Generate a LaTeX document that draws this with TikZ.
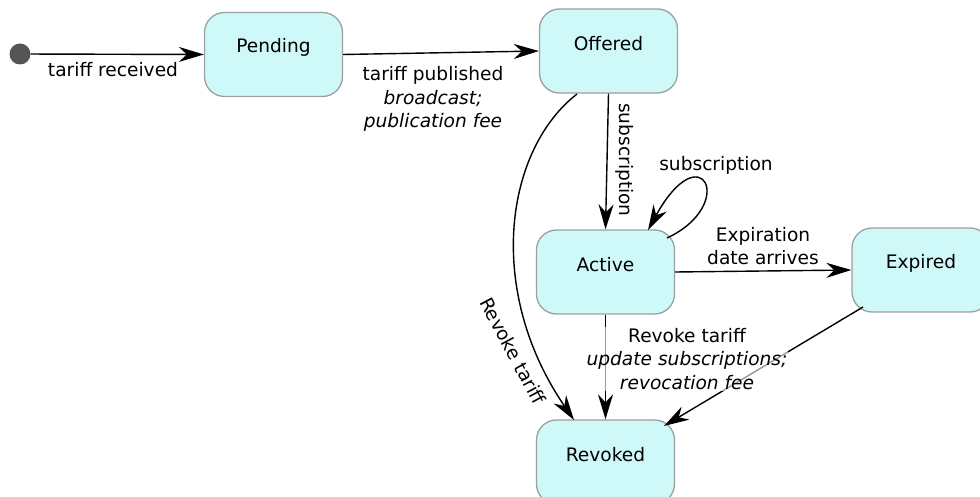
\documentclass[tikz,border=0pt]{standalone}
\usepackage{fontspec}
\setmainfont{DejaVu Sans}
\usetikzlibrary{arrows.meta}
\definecolor{statefill}{RGB}{207,248,248}
\definecolor{stateline}{RGB}{155,160,160}
\definecolor{dotgray}{RGB}{85,85,85}
\begin{document}
\begin{tikzpicture}[x=1pt,y=-1pt,
  font=\fontsize{18.6}{23.5}\selectfont,
  state/.style={draw=stateline, line width=1.3pt, fill=statefill, rounded corners=20pt,
    minimum width=138pt, minimum height=84pt, inner sep=0pt},
  stxt/.style={font=\fontsize{18.6}{23.5}\selectfont, yshift=7pt},
  conn/.style={draw=black, line width=1.4pt, -{Stealth[length=25pt,width=15pt,inset=8pt]}},
  lbl/.style={align=center, inner sep=1pt}
]
\clip (0,0) rectangle (980,497);
\useasboundingbox (0,0) rectangle (980,497);

\node[circle, fill=dotgray, minimum size=21pt, inner sep=0pt] (init) at (20,54) {};
\node[state, label={[stxt]center:Pending}] (pending) at (273.5,54.5) {};
\node[state, label={[stxt]center:Offered}] (offered) at (608.5,51) {};
\node[state, label={[stxt]center:Active}] (active) at (605.5,272) {};
\node[state, label={[stxt]center:Expired}] (expired) at (921,270) {};
\node[state, label={[stxt]center:Revoked}] (revoked) at (605.5,462) {};

\coordinate (loopS) at (667,238);
\coordinate (loopE) at (648,230);
\coordinate (offS) at (577,94);
\coordinate (revN) at (574,420);
\coordinate (expS) at (863,307);
\coordinate (revNE) at (664,426);

\draw[conn] (init) -- (pending.west);
\draw[conn] (pending.east) -- (offered.west);
\draw[conn] (offered.south) -- (active.north);
\draw[conn] (loopS) .. controls (738,205) and (702,132) .. (loopE);
\draw[conn] (active.east) -- (expired.west);
\draw[conn] (active.south) -- (revoked.north);
\draw[conn] (expS) -- (revNE);
\draw[conn] (offS) .. controls (505,150) and (485,290) .. (revN);

\node[lbl] (l1) at (113,70) {tariff received};
\node[lbl] (l2) at (433,99) {tariff published\\ \textit{broadcast;}\\ \textit{publication fee}};
\node[lbl, rotate=-90] (l3) at (625,160) {subscription};
\node[lbl] (l4) at (716,165) {subscription};
\node[lbl] (l5) at (763,246) {Expiration\\ date arrives};
\node[lbl, fill=white, fill opacity=0.6, text opacity=1] (l6) at (687,359) {Revoke tariff\\ \textit{update subscriptions;}\\ \textit{revocation fee}};
\node[lbl, rotate=-62] (l7) at (513,351) {Revoke tariff};
\end{tikzpicture}
\end{document}
